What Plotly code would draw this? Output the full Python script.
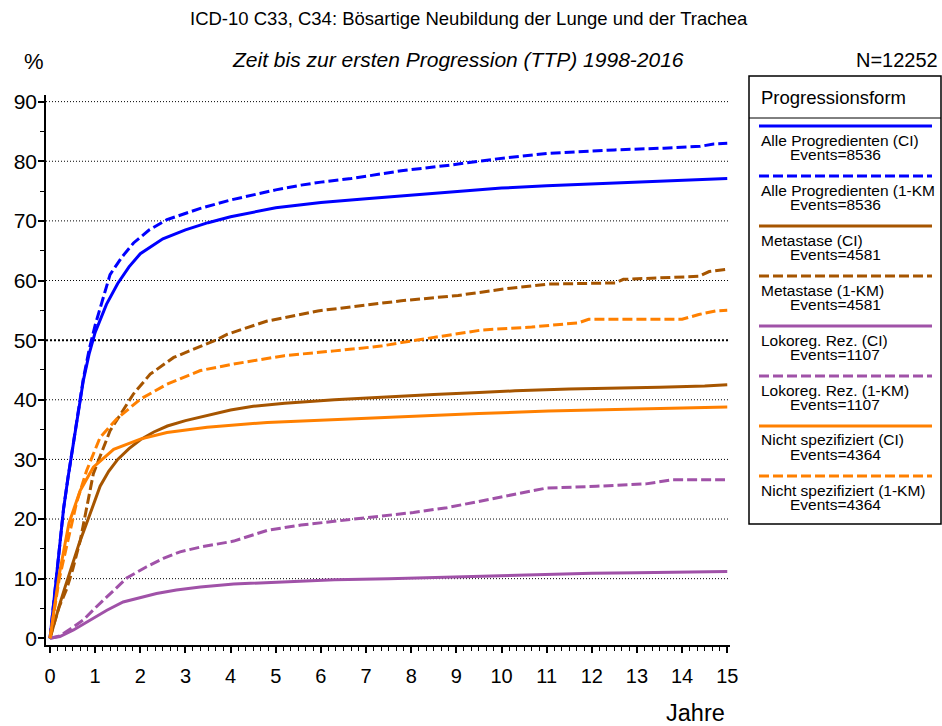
import plotly.graph_objects as go

# ---- Data: cumulative progression (%) over years since diagnosis ----
t_alle_ci = [0, 0.1, 0.2, 0.3, 0.4, 0.5, 0.6, 0.74, 0.87, 1.0, 1.25, 1.5, 1.75, 2.0, 2.5, 3.0, 3.5,
             4.0, 5.0, 6.0, 7.0, 8.0, 9.0, 10.0, 11.0, 12.0, 13.0, 14.0, 15.0]
y_alle_ci = [0, 7.6, 15.2, 21.7, 27.0, 32.0, 36.5, 43.3, 47.8, 51.3, 56.0, 59.5, 62.3, 64.5, 67.0, 68.5, 69.7,
             70.7, 72.2, 73.1, 73.7, 74.3, 74.9, 75.5, 75.9, 76.2, 76.5, 76.8, 77.1]

t_alle_km = [0, 0.1, 0.2, 0.3, 0.4, 0.5, 0.6, 0.74, 0.87, 1.0, 1.33, 1.6, 1.85, 2.2, 2.59, 3.0, 3.33,
             4.0, 4.44, 5.0, 5.56, 6.0, 6.67, 7.0, 7.78, 8.8, 9.9, 11.0, 12.5, 13.6, 14.4, 14.7, 15.0]
y_alle_km = [0, 7.6, 15.2, 21.7, 27.0, 32.0, 36.6, 43.6, 48.5, 52.5, 61.0, 64.0, 66.3, 68.5, 70.2, 71.3, 72.1,
             73.5, 74.3, 75.2, 76.0, 76.5, 77.1, 77.5, 78.4, 79.3, 80.4, 81.3, 81.9, 82.2, 82.5, 82.9, 83.0]

t_meta_ci = [0, 0.1, 0.22, 0.33, 0.5, 0.65, 0.87, 1.11, 1.3, 1.5, 1.75, 2.0, 2.3, 2.6, 3.0, 3.33, 4.0,
             4.5, 5.2, 6.3, 7.5, 8.5, 9.5, 10.3, 11.5, 12.5, 13.5, 14.5, 15.0]
y_meta_ci = [0, 2.8, 5.8, 8.5, 12.5, 16.0, 20.5, 25.5, 28.0, 30.0, 31.8, 33.3, 34.6, 35.6, 36.5, 37.1, 38.3,
             38.9, 39.4, 40.0, 40.5, 40.9, 41.2, 41.5, 41.8, 41.9, 42.1, 42.3, 42.5]

t_meta_km = [0, 0.07, 0.2, 0.37, 0.5, 0.67, 0.96, 1.33, 1.85, 2.22, 2.74, 3.33, 3.7, 3.93, 4.81, 5.93,
             6.67, 7.33, 7.78, 9.04, 10.07, 11.04, 12.52, 12.7, 14.37, 14.6, 15.0]
y_meta_km = [0, 2.0, 5.2, 8.3, 11.5, 16.4, 27.6, 34.8, 41.0, 44.3, 47.1, 49.0, 50.1, 51.0, 53.2, 54.9,
             55.6, 56.1, 56.6, 57.5, 58.6, 59.4, 59.6, 60.2, 60.7, 61.5, 61.9]

t_lok_ci = [0, 0.22, 0.52, 0.89, 1.26, 1.62, 1.99, 2.36, 2.8, 3.33, 4.07, 5.19, 6.3, 7.5, 8.5, 9.5,
            10.5, 11.0, 12.0, 13.0, 14.0, 15.0]
y_lok_ci = [0, 0.3, 1.4, 3.1, 4.7, 6.1, 6.8, 7.5, 8.1, 8.6, 9.1, 9.5, 9.8, 10.0, 10.2, 10.4,
            10.7, 10.8, 10.9, 11.0, 11.1, 11.2]

t_lok_km = [0, 0.22, 0.52, 0.74, 1.03, 1.33, 1.7, 2.14, 2.51, 2.88, 3.33, 4.07, 4.81, 5.56, 6.3, 7.04,
            7.78, 8.05, 8.79, 9.53, 10.27, 11.0, 12.1, 13.2, 13.8, 14.95]
y_lok_km = [0, 0.4, 1.9, 3.1, 5.3, 7.5, 10.1, 12.0, 13.4, 14.5, 15.3, 16.3, 18.1, 19.0, 19.6, 20.2,
            20.8, 21.1, 21.9, 23.0, 24.1, 25.2, 25.5, 25.9, 26.6, 26.6]

t_nicht_ci = [0, 0.1, 0.2, 0.3, 0.42, 0.67, 0.96, 1.41, 2.0, 2.59, 3.48, 4.81, 6.3, 7.33, 7.78, 9.5,
              11.04, 13.26, 15.0]
y_nicht_ci = [0, 5.5, 10.5, 14.5, 19.3, 24.8, 28.7, 31.7, 33.4, 34.5, 35.4, 36.2, 36.7, 37.05, 37.2, 37.7,
              38.1, 38.5, 38.8]

t_nicht_km = [0, 0.1, 0.2, 0.37, 0.59, 0.81, 1.11, 1.48, 2.0, 2.59, 3.33, 4.07, 5.19, 6.3, 7.33, 7.78,
              8.44, 9.56, 10.67, 11.7, 11.93, 14.0, 14.37, 14.74, 15.0]
y_nicht_km = [0, 5.2, 9.8, 15.5, 22.8, 28.1, 33.7, 36.8, 40.1, 42.6, 44.9, 46.0, 47.4, 48.2, 49.0, 49.6,
              50.4, 51.7, 52.2, 52.9, 53.5, 53.5, 54.3, 54.9, 55.0]

# legend labels and event counts
labels = ["Alle Progredienten (CI)", "Alle Progredienten (1-KM",
          "Metastase (CI)", "Metastase (1-KM)",
          "Lokoreg. Rez. (CI)", "Lokoreg. Rez. (1-KM)",
          "Nicht spezifiziert (CI)", "Nicht spezifiziert (1-KM)"]
events = [8536, 8536, 4581, 4581, 1107, 1107, 4364, 4364]

x_ticks = list(range(0, 16))
y_ticks = list(range(0, 100, 10))
grid_levels = list(range(10, 100, 10))

BLUE = "#0000FF"
BROWN = "#A65500"
PURPLE = "#A052A8"
ORANGE = "#FF8000"
DASH = "10px,4px"

series = [
    (t_alle_ci, y_alle_ci, BLUE, "solid"),
    (t_alle_km, y_alle_km, BLUE, DASH),
    (t_meta_ci, y_meta_ci, BROWN, "solid"),
    (t_meta_km, y_meta_km, BROWN, DASH),
    (t_lok_ci, y_lok_ci, PURPLE, "solid"),
    (t_lok_km, y_lok_km, PURPLE, DASH),
    (t_nicht_ci, y_nicht_ci, ORANGE, "solid"),
    (t_nicht_km, y_nicht_km, ORANGE, DASH),
]

FONT = "Liberation Sans, Arial, sans-serif"
W, H = 942, 726
L, R, T, B = 46, 730, 95, 645  # plot area edges in pixels


def px(x):
    return (x - L) / (R - L)


def py(y):
    return (B - y) / (B - T)


fig = go.Figure()

for (t, v, color, dash), lab in zip(series, labels):
    fig.add_trace(go.Scatter(x=t, y=v, mode="lines", name=lab, showlegend=False,
                             line=dict(color=color, width=3, dash=dash)))

shapes = []
# dotted horizontal gridlines, the 50 % line drawn heavier
for g in grid_levels:
    shapes.append(dict(type="line", xref="paper", yref="y", x0=0, x1=1, y0=g, y1=g, layer="below",
                       line=dict(color="black", width=2 if g == 50 else 1,
                                 dash="2px,2px" if g == 50 else "1px,2px")))

annotations = [
    dict(text="ICD-10 C33, C34: Bösartige Neubildung der Lunge und der Trachea",
         x=px(469), y=py(18), font=dict(size=18.5)),
    dict(text="<i>Zeit bis zur ersten Progression (TTP) 1998-2016</i>",
         x=px(458), y=py(60), font=dict(size=21)),
    dict(text="%", x=px(34), y=py(61), font=dict(size=22)),
    dict(text="N=12252", x=px(940), y=py(60), xanchor="right", font=dict(size=20)),
    dict(text="Jahre", x=px(727), y=py(713), xanchor="right", font=dict(size=23.5)),
]

# legend box
box_l, box_r, box_t, box_b = 749, 941, 76, 524
shapes.append(dict(type="rect", xref="paper", yref="paper", x0=px(box_l), x1=px(box_r),
                   y0=py(box_b), y1=py(box_t), line=dict(color="black", width=1.5),
                   fillcolor="white", layer="below"))
shapes.append(dict(type="line", xref="paper", yref="paper", x0=px(box_l), x1=px(box_r),
                   y0=py(118), y1=py(118), line=dict(color="black", width=1)))
annotations.append(dict(text="Progressionsform", x=px(759), y=py(97), xanchor="left",
                        font=dict(size=18.5)))
for i, ((t, v, color, dash), lab, ev) in enumerate(zip(series, labels, events)):
    ly = 126 + 50 * i
    shapes.append(dict(type="line", xref="paper", yref="paper", x0=px(759), x1=px(932),
                       y0=py(ly), y1=py(ly), line=dict(color=color, width=3, dash=dash)))
    annotations.append(dict(text=lab, x=px(759), y=py(ly + 14), xanchor="left",
                            font=dict(size=15.5)))
    annotations.append(dict(text=f"Events={ev}", x=px(788), y=py(ly + 28), xanchor="left",
                            font=dict(size=15.5)))

for a in annotations:
    a.setdefault("xanchor", "center")
    a.update(xref="paper", yref="paper", yanchor="middle", showarrow=False)
    a["font"].update(family=FONT, color="black")

x_lo = -(50 - L) / 45.15
x_hi = (R - 50) / 45.15
y_lo = -(B - 638.3) / 5.963
y_hi = (638.3 - T) / 5.963

fig.update_layout(
    width=W, height=H,
    margin=dict(l=L, r=W - R, t=T, b=H - B, pad=0),
    paper_bgcolor="white", plot_bgcolor="white",
    font=dict(family=FONT, color="black"),
    shapes=shapes, annotations=annotations,
    xaxis=dict(range=[x_lo, x_hi], tickvals=x_ticks, showgrid=False, zeroline=False,
               showline=True, linecolor="black", linewidth=1.5,
               ticks="outside", ticklen=6, tickwidth=1.5, tickcolor="black",
               tickfont=dict(size=20), ticklabelstandoff=6,
               minor=dict(dtick=1 / 6, tick0=0, ticks="outside", ticklen=4, tickwidth=1,
                          tickcolor="black", showgrid=False)),
    yaxis=dict(range=[y_lo, y_hi], tickvals=y_ticks, showgrid=False, zeroline=False,
               showline=True, linecolor="black", linewidth=1.5,
               ticks="outside", ticklen=6, tickwidth=1.5, tickcolor="black",
               tickfont=dict(size=21), ticklabelstandoff=-3,
               minor=dict(dtick=5, tick0=0, ticks="outside", ticklen=4, tickwidth=1,
                          tickcolor="black", showgrid=False)),
)

fig.write_html("out.html")
